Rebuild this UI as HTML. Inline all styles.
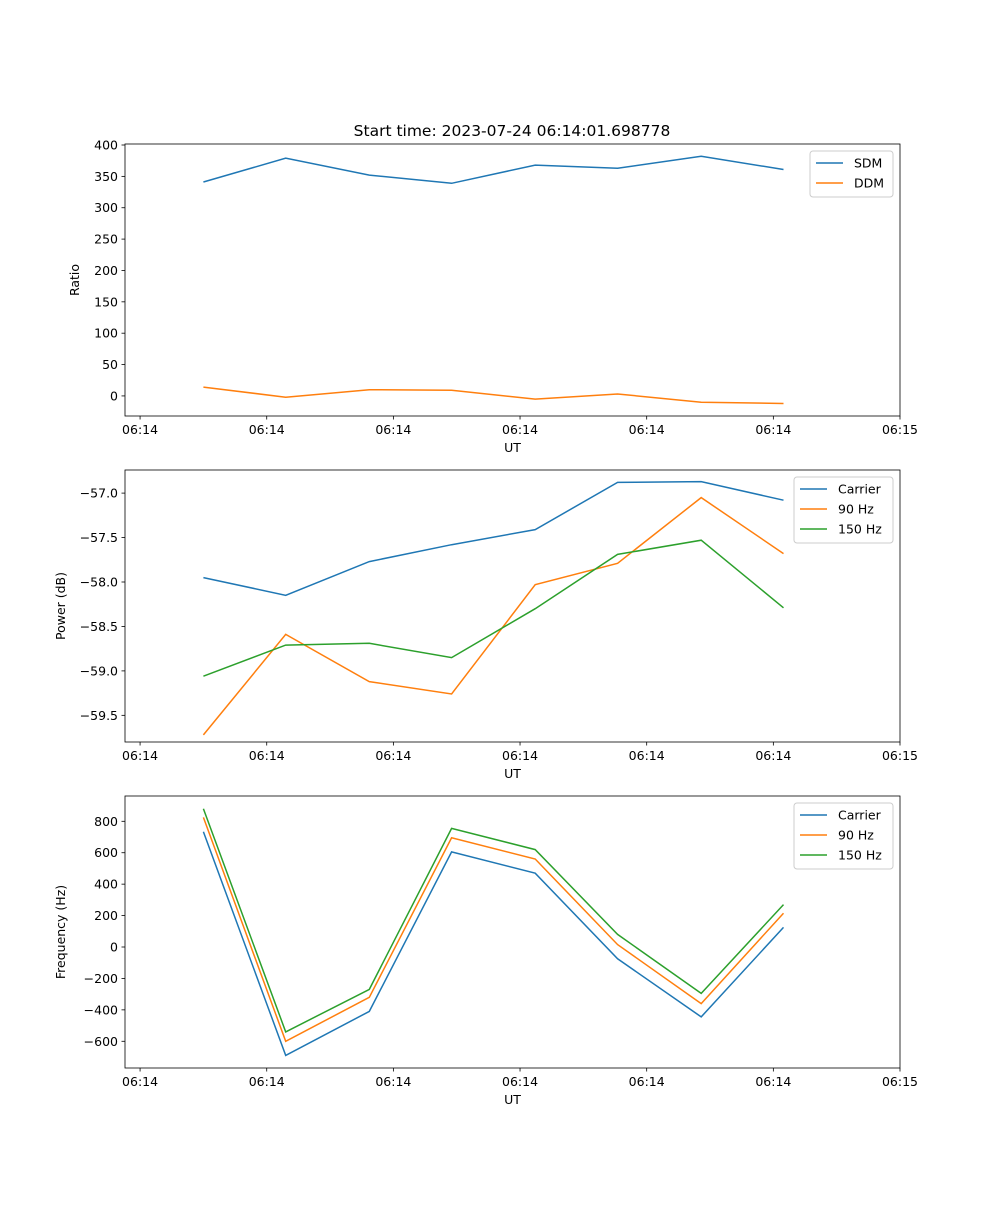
<!DOCTYPE html>
<html><head><meta charset="utf-8">
<style>
body{margin:0;background:#fff;}
svg text{font-family:"DejaVu Sans","Liberation Sans",sans-serif;fill:#000;}
</style></head>
<body>
<svg id="fig" width="1000" height="1200" xmlns="http://www.w3.org/2000/svg">
<rect width="1000" height="1200" fill="#fff"/>
<text x="512" y="136" font-size="15.5" text-anchor="middle">Start time: 2023-07-24 06:14:01.698778</text>
</svg>
<script>
// data (seconds after 06:14:00)
const times = [5.0, 11.5, 18.1, 24.6, 31.2, 37.7, 44.3, 50.8];
const xTickVals = [0, 10, 20, 30, 40, 50, 60];
const xTickLabels = ["06:14","06:14","06:14","06:14","06:14","06:14","06:15"];
const sdm = [341, 379, 352, 339, 368, 363, 382, 361];
const ddm = [14, -2, 10, 9, -5, 3, -10, -12];
const pCarrier = [-57.95, -58.15, -57.77, -57.58, -57.41, -56.88, -56.87, -57.08];
const p90 = [-59.72, -58.59, -59.12, -59.26, -58.03, -57.79, -57.05, -57.68];
const p150 = [-59.06, -58.71, -58.69, -58.85, -58.30, -57.69, -57.53, -58.29];
const fCarrier = [733, -690, -410, 605, 470, -75, -445, 125];
const f90 = [825, -600, -320, 695, 560, 15, -360, 215];
const f150 = [880, -540, -270, 755, 620, 80, -295, 270];
const ratioTicks = [0, 50, 100, 150, 200, 250, 300, 350, 400];
const powerTicks = [-59.5, -59.0, -58.5, -58.0, -57.5, -57.0];
const freqTicks = [-600, -400, -200, 0, 200, 400, 600, 800];

const NS = "http://www.w3.org/2000/svg";
const svg = document.getElementById("fig");
function el(tag, attrs, parent){
  const e = document.createElementNS(NS, tag);
  for (const k in attrs) e.setAttribute(k, attrs[k]);
  (parent||svg).appendChild(e);
  return e;
}
const L = 125, R = 900, XMIN = -1.19, XMAX = 60;
const xs = v => L + (v - XMIN) / (XMAX - XMIN) * (R - L);
const FS = 12.5;

function panel(name, top, bot, ymin, ymax, yticks, fmt, ylabel, series, legendW){
  const g = el("g", {});
  
  
  const ys = v => bot - (v - ymin) / (ymax - ymin) * (bot - top);
  series.forEach(s => {
    const pts = times.map((t, i) => xs(t).toFixed(1) + "," + ys(s.vals[i]).toFixed(1)).join(" ");
    const pl = el("polyline", {points: pts, fill: "none", stroke: s.color, "stroke-width": 1.5}, g);
    
    
  });
  const fr = el("rect", {x: L, y: top, width: R - L, height: bot - top, fill: "none", stroke: "#000", "stroke-width": 0.8}, g);
  
  
  xTickVals.forEach((v, i) => {
    const x = xs(v);
    el("line", {x1: x, y1: bot, x2: x, y2: bot + 3.5, stroke: "#000", "stroke-width": 0.8}, g);
    const t = el("text", {x: x, y: bot + 18, "font-size": FS, "text-anchor": "middle"}, g);
    t.textContent = xTickLabels[i];
    
    
  });
  yticks.forEach(v => {
    const y = ys(v);
    el("line", {x1: L - 3.5, y1: y, x2: L, y2: y, stroke: "#000", "stroke-width": 0.8}, g);
    const t = el("text", {x: L - 7, y: y + 4.5, "font-size": FS, "text-anchor": "end"}, g);
    t.textContent = fmt(v);
    
    
  });
  const xl = el("text", {x: (L + R) / 2, y: bot + 36, "font-size": FS, "text-anchor": "middle"}, g);
  xl.textContent = "UT";
  
  
  const yl = el("text", {x: 0, y: 0, "font-size": FS, "text-anchor": "middle", transform: `translate(${L - (ylabel === "Ratio" ? 46 : 60)},${(top + bot) / 2}) rotate(-90)`}, g);
  yl.textContent = ylabel;
  
  
  // legend
  const lx = R - 7 - legendW, ly = top + 7, lh = 6 + series.length * 20;
  const lg = el("g", {}, g);
  
  
  el("rect", {x: lx, y: ly, width: legendW, height: lh, rx: 3, fill: "#fff", "fill-opacity": 0.8, stroke: "#ccc"}, lg);
  series.forEach((s, i) => {
    const yy = ly + 12 + i * 20;
    el("line", {x1: lx + 6, y1: yy, x2: lx + 33, y2: yy, stroke: s.color, "stroke-width": 1.5}, lg);
    const t = el("text", {x: lx + 44, y: yy + 4.5, "font-size": FS}, lg);
    t.textContent = s.label;
    
    
  });
}
const C1 = "#1f77b4", C2 = "#ff7f0e", C3 = "#2ca02c";
panel("ratio", 144, 416, -32, 401.6, ratioTicks, v => String(v), "Ratio",
  [{key:"sdm", label:"SDM", vals:sdm, color:C1},{key:"ddm", label:"DDM", vals:ddm, color:C2}], 83);
panel("power", 470, 742, -59.80, -56.74, powerTicks, v => "\u2212" + Math.abs(v).toFixed(1), "Power (dB)",
  [{key:"carrier", label:"Carrier", vals:pCarrier, color:C1},{key:"90hz", label:"90 Hz", vals:p90, color:C2},{key:"150hz", label:"150 Hz", vals:p150, color:C3}], 99);
panel("frequency", 796, 1068, -770, 961, freqTicks, v => v < 0 ? "\u2212" + Math.abs(v) : String(v), "Frequency (Hz)",
  [{key:"carrier", label:"Carrier", vals:fCarrier, color:C1},{key:"90hz", label:"90 Hz", vals:f90, color:C2},{key:"150hz", label:"150 Hz", vals:f150, color:C3}], 99);
</script>
</body></html>
